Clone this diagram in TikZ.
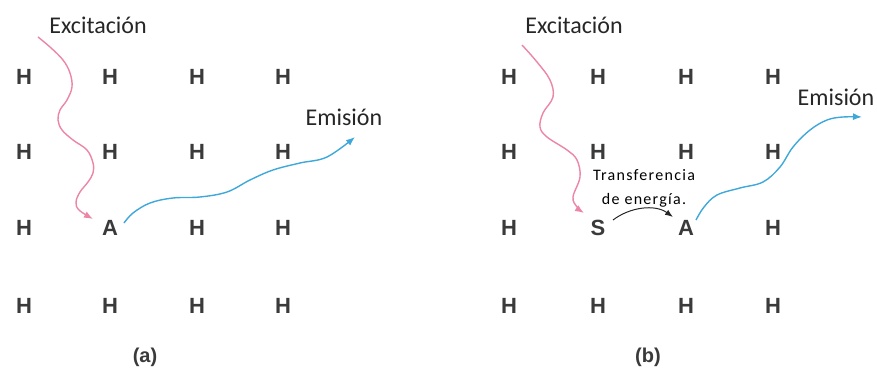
\documentclass[tikz,border=0pt]{standalone}
\usepackage{fontspec}
\setmainfont{Carlito}
\newfontfamily\letterfont{Liberation Sans}
\usetikzlibrary{arrows.meta,calc}
\definecolor{exc}{HTML}{EC86A6}
\definecolor{emi}{HTML}{3FA8DA}
\definecolor{letr}{HTML}{3A3A3A}
\begin{document}
\begin{tikzpicture}[x=1pt,y=-1pt,
  atom/.style={font=\letterfont\bfseries\fontsize{22}{26}\selectfont, text=letr, inner sep=1pt},
  lbl/.style={font=\fontsize{24}{28}\selectfont, text=black!85, inner sep=0pt},
  capt/.style={font=\letterfont\bfseries\fontsize{20}{24}\selectfont, text=letr},
  excarrow/.style={draw=exc, line width=1.4pt, -{Latex[length=9pt,width=7pt]}},
  emiarrow/.style={draw=emi, line width=1.4pt, -{Latex[length=9pt,width=7pt]}},
  trarrow/.style={draw=black!85, line width=1pt, -{Latex[length=8pt,width=6pt]}}
]
\path[use as bounding box] (0,0) rectangle (877,371);

% panel (a) lattice
\foreach \y [count=\r] in {77,152,228,306}{
  \foreach \x [count=\c] in {24,110,197,283}{
    \ifnum\r\c=32 \else \node[atom] (a\r\c) at (\x,\y) {H};\fi
  }}
\node[atom] (Aa) at (110,228) {A};

% panel (b) lattice
\foreach \y [count=\r] in {77,152,228,306}{
  \foreach \x [count=\c] in {509,598,686,773}{
    \ifnum\r\c=32 \else\ifnum\r\c=33 \else \node[atom] (b\r\c) at (\x,\y) {H};\fi\fi
  }}
\node[atom] (Sb) at (598,228) {S};
\node[atom] (Ab) at (686,228) {A};

% labels
\node[lbl] (exca) at (98,25) {Excitación};
\node[lbl] (emia) at (344,117) {Emisión};
\node[lbl] (excb) at (574,25) {Excitación};
\node[lbl] (emib) at (836,97) {Emisión};
\node[capt] (capa) at (145,357) {(a)};
\node[capt] (capb) at (648,357) {(b)};
\node[font=\fontsize{16}{24}\selectfont\addfontfeature{LetterSpace=8}, text=black, align=center, inner sep=0pt] (tr) at (644,188) {Transferencia\\de energía.};

% panel (a) arrows
\coordinate (ea0) at (38,37);
\coordinate (ema) at (355,137);
\draw[excarrow] plot[smooth, tension=0.6] coordinates {(ea0) (50,47) (63,60) (70,73) (72,87) (67,100) (60,110) (58,120) (62,130) (73,140) (87,150) (93,163) (93,173) (88,182) (80,192) (76,202) (79,210) ($(Aa)+(-17,-9)$)};
\draw[emiarrow] plot[smooth, tension=0.6] coordinates {($(Aa)+(14,-5)$) (133,213) (150,203) (173,198) (200,197) (227,192) (250,180) (273,170) (300,163) (327,157) (ema)};

% panel (b) arrows
\coordinate (eb0) at (522,45);
\coordinate (emb) at (862,117);
\draw[excarrow] plot[smooth, tension=0.6] coordinates {(eb0) (537,62) (550,80) (553,97) (543,113) (540,127) (547,137) (567,150) (577,160) (580,177) (573,197) (577,207) ($(Sb)+(-14,-15)$)};
\draw[emiarrow] plot[smooth, tension=0.6] coordinates {($(Ab)+(10,-8)$) (704,207) (717,195) (740,188) (763,182) (780,167) (793,147) (810,130) (827,120) (843,117) (emb)};
\draw[trarrow] ($(Sb)+(15,-8)$) .. controls (630,207) and (655,204) .. ($(Ab)+(-13,-11)$);
\end{tikzpicture}
\end{document}
